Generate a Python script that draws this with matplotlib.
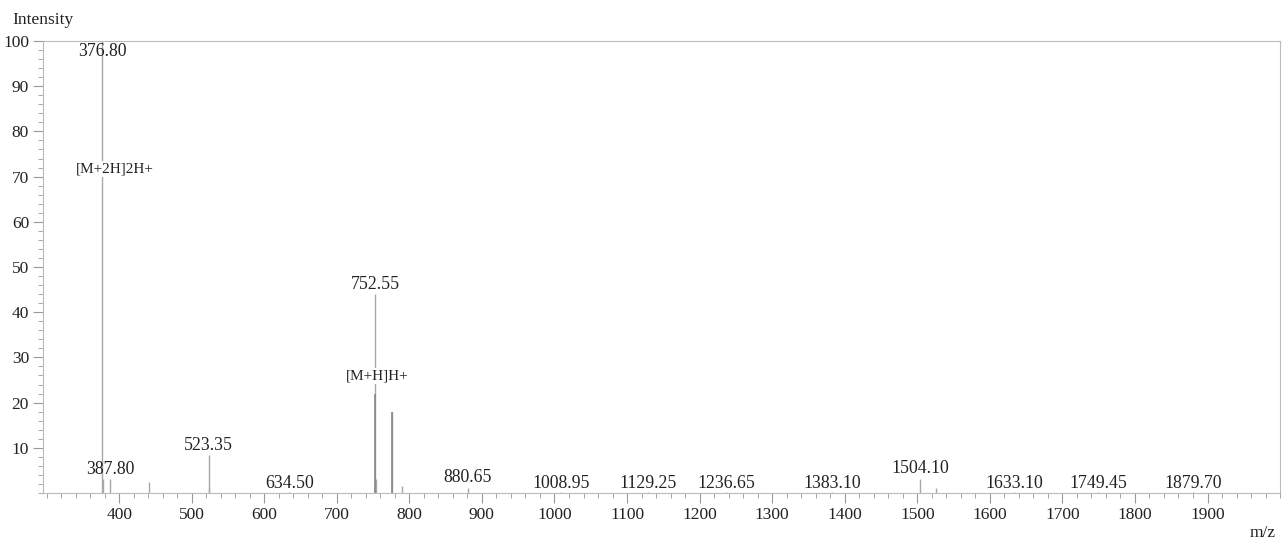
import matplotlib.pyplot as plt
from matplotlib.ticker import MultipleLocator

mz_picos = [376.80, 377.6, 387.80, 441.0, 523.35, 524.4, 634.50, 752.55, 753.6,
            775.5, 790.0, 880.65, 1008.95, 1129.25, 1236.65, 1383.10, 1504.10,
            1526.0, 1633.10, 1749.45, 1879.70]
int_picos = [100, 3, 3, 2.5, 8.5, 1, 0.3, 44, 3,
             18, 1.5, 1, 0.3, 0.3, 0.3, 0.3, 3,
             1, 0.3, 0.3, 0.3]

# picos escuros (sobrepostos)
mz_escuros = [752.55, 775.5]
int_escuros = [22, 18]

# rótulos dos picos
rot_texto = ["376.80", "387.80", "523.35", "634.50", "752.55", "880.65", "1008.95",
             "1129.25", "1236.65", "1383.10", "1504.10", "1633.10", "1749.45", "1879.70"]
rot_mz = [376.80, 387.80, 523.35, 634.50, 752.55, 880.65, 1008.95,
          1129.25, 1236.65, 1383.10, 1504.10, 1633.10, 1749.45, 1879.70]
rot_int = [95.8, 3.3, 8.7, 0.2, 44.3, 1.6, 0.2, 0.2, 0.2, 0.2, 3.6, 0.2, 0.2, 0.2]

# anotações de íons
ion_texto = ["[M+2H]2H+", "[M+H]H+"]
ion_mz = [394.0, 755.0]
ion_int = [70.3, 24.4]

plt.rcParams['font.family'] = ['Liberation Serif', 'DejaVu Serif']

fig = plt.figure(figsize=(12.82, 5.41), dpi=100)
ax = fig.add_axes([0.0335, 0.0887, 0.965, 0.8355])

ax.vlines(mz_picos, 0, int_picos, color="#a8a8a8", linewidth=1.0)
ax.vlines(mz_escuros, 0, int_escuros, color="#888888", linewidth=1.2)

for t, x, y in zip(rot_texto, rot_mz, rot_int):
    ax.text(x, y, t, ha="center", va="bottom", fontsize=12.8, color="#222222")

for t, x, y in zip(ion_texto, ion_mz, ion_int):
    ax.text(x, y, t, ha="center", va="bottom", fontsize=11, color="#222222",
            bbox=dict(facecolor="white", edgecolor="none", pad=1))

ax.set_xlim(295, 2000)
ax.set_ylim(0, 100)
ax.set_xticks(range(400, 2000, 100))
ax.set_yticks(range(10, 101, 10))
ax.xaxis.set_minor_locator(MultipleLocator(20))
ax.yaxis.set_minor_locator(MultipleLocator(2))
ax.tick_params(axis="both", which="major", labelsize=12.5, color="#999999",
               length=7, width=0.8, labelcolor="#222222", pad=3)
ax.tick_params(axis="both", which="minor", color="#999999", length=3.5, width=0.6)

for s in ax.spines.values():
    s.set_color("#bbbbbb")
    s.set_linewidth(0.8)

fig.text(12 / 1282, 1 - 20 / 541, "Intensity", fontsize=12.5, va="center", ha="left", color="#222222")
fig.text(1263 / 1282, 1 - 533 / 541, "m/z", fontsize=12.5, va="center", ha="center", color="#222222")

fig.savefig("out.png", dpi=100)
